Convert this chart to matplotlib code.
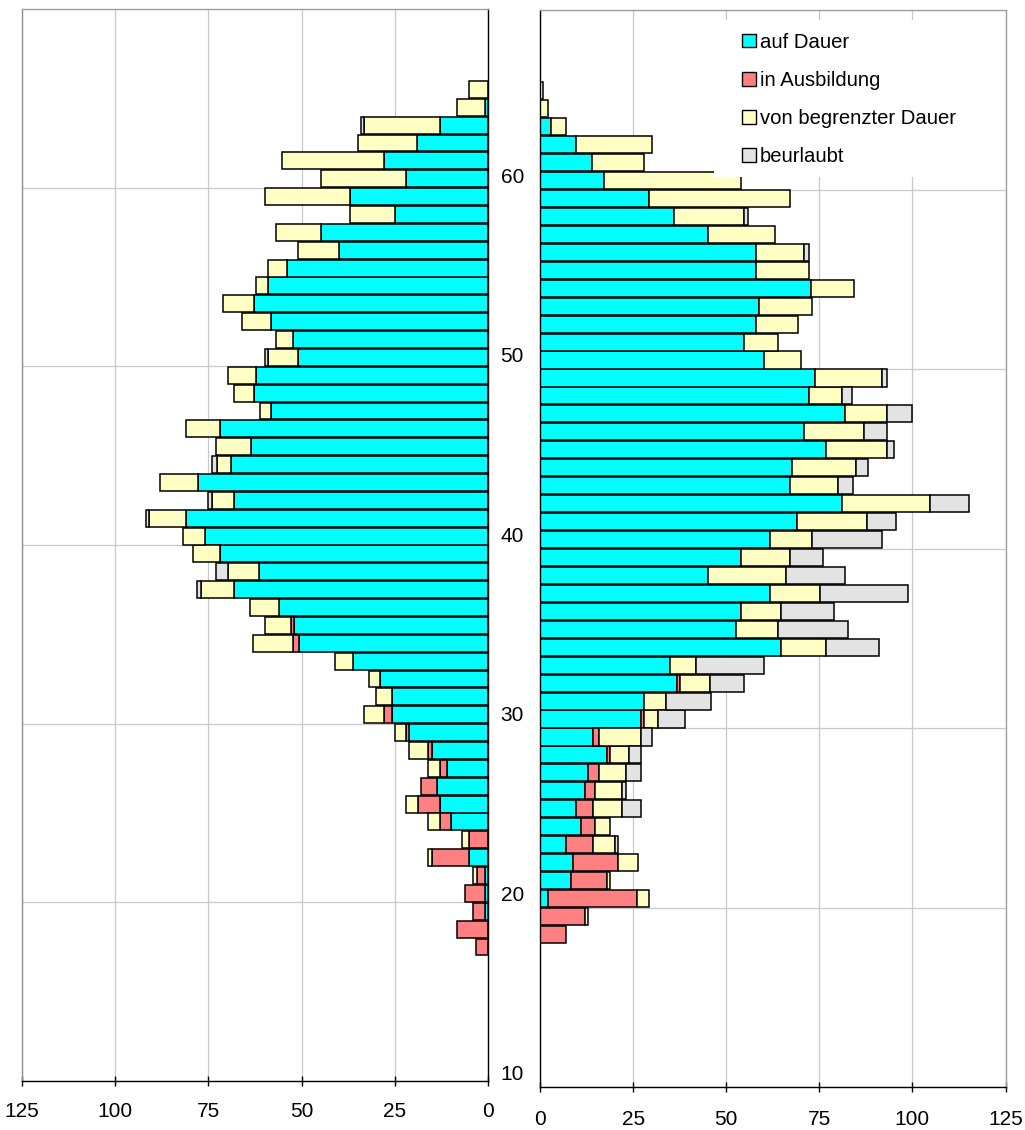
import numpy as np
import matplotlib
matplotlib.use("Agg")
import matplotlib.pyplot as plt
from matplotlib.patches import Patch, Rectangle

plt.rcParams['font.family'] = ['Liberation Sans', 'DejaVu Sans']

# ---------------- data ----------------
series_names = ["auf Dauer", "in Ausbildung", "von begrenzter Dauer", "beurlaubt"]
colors = ["#00FFFF", "#FF8080", "#FFFFC4", "#E3E3E3"]

# left panel (ages 17..65)
left_ages = list(range(17, 66))
left_dauer = [0, 0, 0.9, 0.9, 0.9, 5.1, 0, 9.9, 12.9, 13.8, 11.1, 15.1, 21.1, 25.8, 25.8, 28.9,
              36.2, 50.7, 52.0, 56.0, 68.0, 61.3, 72.0, 75.8, 81.0, 68.0, 77.9, 68.9, 63.7, 72.0,
              58.1, 62.8, 62.1, 50.9, 52.2, 58.1, 62.8, 59.0, 53.8, 40.0, 44.8, 24.9, 37.1, 22.0,
              28.0, 19.0, 12.9, 0.9, 0]
left_ausb = [3.1, 8.3, 3.0, 5.2, 2.1, 10.0, 5.1, 3.0, 6.0, 4.3, 1.8, 0.9, 0.9, 2.2, 0, 0,
             0, 1.5, 0.9, 0, 0, 0, 0, 0, 0, 0, 0, 0, 0, 0,
             0, 0, 0, 0, 0, 0, 0, 0, 0, 0, 0, 0, 0, 0,
             0, 0, 0, 0, 0]
left_begr = [0, 0, 0, 0, 1.0, 0.9, 1.9, 3.1, 3.2, 0, 3.1, 5.2, 2.9, 5.2, 4.3, 3.0,
             4.8, 10.8, 7.0, 7.9, 9.1, 8.5, 7.0, 6.1, 9.9, 6.1, 10.0, 3.9, 9.2, 9.0,
             3.1, 5.3, 7.7, 8.1, 4.7, 7.9, 8.4, 3.1, 5.2, 10.9, 12.1, 12.2, 22.8, 22.9,
             27.2, 16.0, 20.3, 7.4, 5.2]
left_beurl = [0, 0, 0, 0, 0, 0, 0, 0, 0, 0, 0, 0, 0, 0, 0, 0,
              0, 0, 0, 0, 1.0, 3.1, 0, 0, 0.9, 1.0, 0, 1.3, 0, 0,
              0, 0, 0, 0.9, 0, 0, 0, 0, 0, 0, 0, 0, 0, 0,
              0, 0, 0.9, 0, 0]

# right panel (ages 18..65)
right_ages = list(range(18, 66))
right_dauer = [0, 0, 2.1, 8.2, 8.9, 6.9, 11.1, 9.8, 12.0, 12.8, 18.1, 14.1, 27.1, 27.9, 36.8,
               34.8, 64.8, 52.7, 54.0, 61.8, 45.0, 54.0, 61.8, 69.0, 81.1, 67.0, 67.8, 76.9,
               70.8, 81.9, 72.1, 73.8, 60.1, 54.9, 57.9, 58.8, 72.8, 57.9, 57.9, 45.0, 36.1,
               29.2, 17.2, 14.0, 9.8, 2.9, 0, 0]
right_ausb = [6.9, 12.0, 24.0, 9.9, 12.1, 7.2, 3.8, 4.3, 2.9, 3.0, 0.7, 1.8, 0.8, 0, 0.9,
              0, 0, 0, 0, 0, 0, 0, 0, 0, 0, 0, 0, 0,
              0, 0, 0, 0, 0, 0, 0, 0, 0, 0, 0, 0, 0,
              0, 0, 0, 0, 0, 0, 0]
right_begr = [0, 0.9, 3.1, 0.8, 5.2, 6.0, 4.0, 7.8, 7.0, 7.3, 5.1, 11.1, 3.8, 6.0, 8.0,
              7.2, 12.1, 11.2, 10.8, 13.3, 21.1, 13.0, 11.2, 18.9, 23.7, 12.9, 17.1, 16.3,
              16.3, 11.2, 8.9, 18.0, 9.9, 9.0, 11.3, 14.2, 11.4, 14.2, 12.9, 18.1, 18.8,
              37.8, 36.9, 13.9, 20.3, 4.0, 2.1, 0.8]
right_beurl = [0, 0, 0, 0, 0, 0.8, 0, 5.2, 1.2, 4.0, 3.2, 3.0, 7.3, 12.1, 9.1,
               18.1, 14.0, 18.9, 14.2, 23.6, 15.8, 8.9, 18.9, 7.7, 10.3, 4.1, 3.1, 1.8,
               6.1, 6.9, 2.9, 1.3, 0, 0, 0, 0, 0, 0, 1.3, 0, 0.9,
               0, 0, 0, 0, 0, 0, 0]

x_ticks = [0, 25, 50, 75, 100, 125]
age_grid = [10, 20, 30, 40, 50, 60, 70]
age_labels = [10, 20, 30, 40, 50, 60]

# ---------------- figure ----------------
W, H = 1025, 1130
fig = plt.figure(figsize=(W / 100, H / 100), dpi=100)
axL = fig.add_axes([22 / W, 49 / H, 466 / W, 1072 / H])
axR = fig.add_axes([540 / W, 43 / H, 465.5 / W, 1077 / H])

BAR_H = 0.95


def stack(ax, ages, series):
    y = np.array(ages) + 0.5
    left = np.zeros(len(ages))
    for vals, col in zip(series, colors):
        v = np.array(vals, dtype=float)
        m = v > 0
        ax.barh(y[m], v[m], left=left[m], height=BAR_H, color=col,
                edgecolor="black", linewidth=1.1, zorder=2)
        left = left + v


stack(axL, left_ages, [left_dauer, left_ausb, left_begr, left_beurl])
stack(axR, right_ages, [right_dauer, right_ausb, right_begr, right_beurl])

grid_col = "#C8C8C8"
for ax in (axL, axR):
    ax.set_ylim(10, 70)
    ax.set_xticks(x_ticks)
    ax.set_xticklabels([str(t) for t in x_ticks], fontsize=15)
    ax.set_yticks(age_grid)
    ax.set_yticklabels([])
    ax.tick_params(axis="y", which="major", length=0)
    ax.tick_params(axis="x", direction="inout", length=7.5, width=1.0, color="black")
    ax.grid(True, which="major", color=grid_col, linewidth=0.9)
    ax.set_axisbelow(True)
    for s in ax.spines.values():
        s.set_linewidth(1.0)

axL.set_xlim(125, 0)
axR.set_xlim(0, 125)
axL.tick_params(axis="x", pad=11.5)
axR.tick_params(axis="x", pad=12.5)

# spines
axL.spines["left"].set_color("#909090")
axL.spines["top"].set_color("#A0A0A0")
axL.spines["right"].set_color("black")
axL.spines["bottom"].set_color("black")
axR.spines["left"].set_color("black")
axR.spines["bottom"].set_color("black")
axR.spines["top"].set_color("#A0A0A0")
axR.spines["right"].set_color("#A0A0A0")

# right panel age labels (drawn slightly above the gridlines, as in the original)
axR.set_yticks([a + 0.8 for a in age_labels], minor=True)
axR.set_yticklabels([str(a) for a in age_labels], minor=True, fontsize=15)
axR.tick_params(axis="y", which="minor", length=0, pad=11.5)

# legend background and legend
axR.add_patch(Rectangle((0.3738, 0.845), 0.625, 0.1457, transform=axR.transAxes,
                        facecolor="white", edgecolor="none", zorder=4))
handles = [Patch(facecolor=c, edgecolor="black", linewidth=1.0) for c in colors]
leg = axR.legend(handles, series_names, loc="upper left",
                 bbox_to_anchor=(0.434, 0.979), frameon=False, fontsize=14.6,
                 borderpad=0, borderaxespad=0, handlelength=0.68, handleheight=0.68,
                 handletextpad=0.2, labelspacing=0.95)
leg.set_zorder(5)

fig.savefig("out.png", dpi=100)
